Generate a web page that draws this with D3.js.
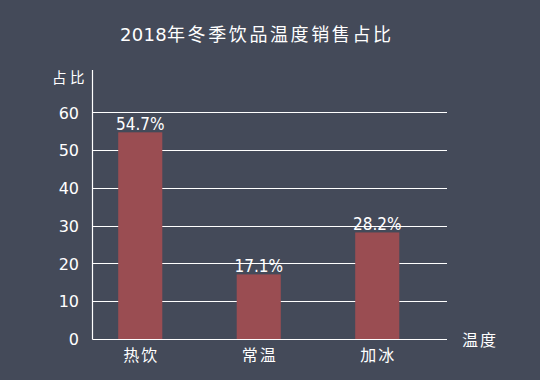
<!DOCTYPE html>
<html><head><meta charset="utf-8">
<script src="https://cdn.jsdelivr.net/npm/d3@7"></script>
<style>
html,body{margin:0;padding:0;background:#444a59;}
svg{display:block;}
</style></head>
<body>
<svg id="c" width="540" height="380"></svg>
<script>
const categories = ["热饮", "常温", "加冰"];
const values = [54.7, 17.1, 28.2];
const valueLabels = ["54.7%", "17.1%", "28.2%"];
const yTicks = [0, 10, 20, 30, 40, 50, 60];
const titleNum = "2018";
const titleText = "年冬季饮品温度销售占比";
const yName = "占比";
const xName = "温度";

(function () {
const svg = d3.select("#c");
const W = 540, H = 380;
svg.append("rect").attr("width", W).attr("height", H).attr("fill", "#444a59");

const plotL = 92.5, plotR = 447, plotT = 112.3, plotB = 339;
const y = d3.scaleLinear().domain([0, 60]).range([plotB, plotT]);
const x = d3.scaleBand().domain(categories).range([81, 436.5]).padding(0);
const barW = x.bandwidth() * 0.372;

const cjk = "'Noto Sans CJK SC', 'DejaVu Sans', sans-serif";
const lat = "'DejaVu Sans', 'Noto Sans CJK SC', sans-serif";

// gridlines
const grid = svg.append("g");
grid.selectAll("line").data(yTicks).join("line")
  .attr("x1", plotL).attr("x2", plotR)
  .attr("y1", d => Math.round(y(d)) + 0.5).attr("y2", d => Math.round(y(d)) + 0.5)
  .attr("stroke", "#ffffff").attr("stroke-width", 1.2);

// y axis line
svg.append("line").attr("x1", plotL).attr("x2", plotL)
  .attr("y1", 70).attr("y2", plotB + 0.5)
  .attr("stroke", "#ffffff").attr("stroke-width", 1.2);

// y tick labels via axis
const yAxis = d3.axisLeft(y).tickValues(yTicks).tickSize(0).tickPadding(0);
const ya = svg.append("g").attr("transform", "translate(79,0)").call(yAxis);
ya.select(".domain").remove();
ya.selectAll("text").attr("fill", "#ffffff").attr("font-family", lat)
  .attr("font-size", 16).attr("x", 0).attr("dy", "0.36em");

// bars
svg.append("g").selectAll("rect").data(values).join("rect")
  .attr("x", (d, i) => x(categories[i]) + x.bandwidth() / 2 - barW / 2)
  .attr("width", barW)
  .attr("y", d => y(d))
  .attr("height", d => plotB - y(d))
  .attr("fill", "#9a4d52");

// value labels
svg.append("g").selectAll("text").data(values).join("text")
  .attr("x", (d, i) => x(categories[i]) + x.bandwidth() / 2)
  .attr("y", d => y(d) - 2)
  .attr("text-anchor", "middle")
  .attr("fill", "#ffffff").attr("font-family", "'DejaVu Sans Condensed', 'DejaVu Sans', sans-serif")
  .attr("font-size", 17)
  .text((d, i) => valueLabels[i]);

// category labels
svg.append("g").selectAll("text").data(categories).join("text")
  .attr("x", d => x(d) + x.bandwidth() / 2 + 1)
  .attr("y", 360.5)
  .attr("text-anchor", "middle")
  .attr("fill", "#ffffff").attr("font-family", cjk)
  .attr("font-size", 16).attr("letter-spacing", 2)
  .text(d => d);

// axis names
svg.append("text").attr("x", 52).attr("y", 82.5)
  .attr("fill", "#ffffff").attr("font-family", cjk)
  .attr("font-size", 14.5).attr("letter-spacing", 3.5).text(yName);
svg.append("text").attr("x", 462).attr("y", 345.5)
  .attr("fill", "#ffffff").attr("font-family", cjk)
  .attr("font-size", 16).attr("letter-spacing", 2).text(xName);

// title
const t = svg.append("text").attr("x", 120).attr("y", 41)
  .attr("fill", "#ffffff").attr("font-size", 18);
t.append("tspan").attr("font-family", lat).attr("letter-spacing", 0.3).text(titleNum);
t.append("tspan").attr("font-family", cjk).attr("letter-spacing", 2.6).text(titleText);
})();
</script>
</body></html>
